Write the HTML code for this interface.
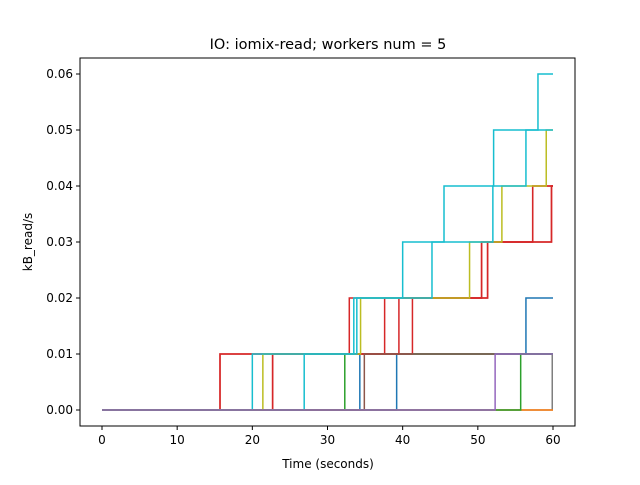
<!DOCTYPE html>
<html><head><meta charset="utf-8"><style>
body{margin:0;background:#fff;font-family:"Liberation Sans","DejaVu Sans",sans-serif;}
</style></head><body>
<svg id="chart" width="640" height="480" xmlns="http://www.w3.org/2000/svg" font-family="DejaVu Sans, Liberation Sans, sans-serif">
<rect width="640" height="480" fill="#fff"/>
<g id="series"></g>
<rect x="80" y="58" width="495" height="368" fill="none" stroke="#000" stroke-width="1"/>
<g id="axes" font-size="12" fill="#000"></g>
<text x="328" y="49" text-anchor="middle" font-size="14.5">IO: iomix-read; workers num = 5</text>
<text x="328" y="468" text-anchor="middle" font-size="12">Time (seconds)</text>
<text x="32" y="242" text-anchor="middle" font-size="12" transform="rotate(-90 32 242)">kB_read/s</text>
</svg>
<script>
const xTicks=[0,10,20,30,40,50,60];
const yTicks=[0,0.01,0.02,0.03,0.04,0.05,0.06];
const yTickLabels=["0.00","0.01","0.02","0.03","0.04","0.05","0.06"];
const seriesColors=["#1f77b4","#1f77b4","#2ca02c","#d62728","#d62728","#d62728","#d62728","#8c564b","#7f7f7f","#bcbd22","#17becf","#17becf","#ff7f0e","#2ca02c","#9467bd"];
// change times (steps up by 0.01 each)
const stepTimes=[
 [34.3,56.4],
 [39.2],
 [32.3],
 [15.7,32.9,50.5,57.3],
 [22.7,37.6,51.3,59.8],
 [22.7,39.5,50.5,57.3],
 [15.7,41.3,51.3,59.8],
 [34.9],
 [59.9],
 [21.4,34.4,48.9,53.2,59.1],
 [20,33.5,40,45.5,52.1,58],
 [26.9,33.9,43.9,52,56.4],
 [],
 [55.7],
 [52.3]
];
const xs=t=>102+(t/60)*451;
const ys=v=>410-v*5600;
const NS="http://www.w3.org/2000/svg";
const g=document.getElementById('series');
stepTimes.forEach((times,i)=>{
  let v=0,d="M"+xs(0)+","+ys(0);
  times.forEach(t=>{d+=" L"+xs(t)+","+ys(v);v+=0.01;d+=" L"+xs(t)+","+ys(v);});
  d+=" L"+xs(60)+","+ys(v);
  const p=document.createElementNS(NS,'path');
  p.setAttribute('d',d);p.setAttribute('fill','none');
  p.setAttribute('stroke',seriesColors[i]);p.setAttribute('stroke-width','1.5');
  
  
  g.appendChild(p);
});
const ax=document.getElementById('axes');
xTicks.forEach(t=>{
  const l=document.createElementNS(NS,'line');
  l.setAttribute('x1',xs(t));l.setAttribute('x2',xs(t));l.setAttribute('y1',426);l.setAttribute('y2',430);l.setAttribute('stroke','#000');
  
  
  ax.appendChild(l);
  const tx=document.createElementNS(NS,'text');
  tx.setAttribute('x',xs(t));tx.setAttribute('y',444);tx.setAttribute('text-anchor','middle');tx.textContent=t;
  
  
  ax.appendChild(tx);
});
yTicks.forEach((v,i)=>{
  const l=document.createElementNS(NS,'line');
  l.setAttribute('x1',76);l.setAttribute('x2',80);l.setAttribute('y1',ys(v));l.setAttribute('y2',ys(v));l.setAttribute('stroke','#000');
  
  
  ax.appendChild(l);
  const tx=document.createElementNS(NS,'text');
  tx.setAttribute('x',73);tx.setAttribute('y',ys(v)+4);tx.setAttribute('text-anchor','end');tx.textContent=yTickLabels[i];
  
  
  ax.appendChild(tx);
});
</script>
</body></html>
